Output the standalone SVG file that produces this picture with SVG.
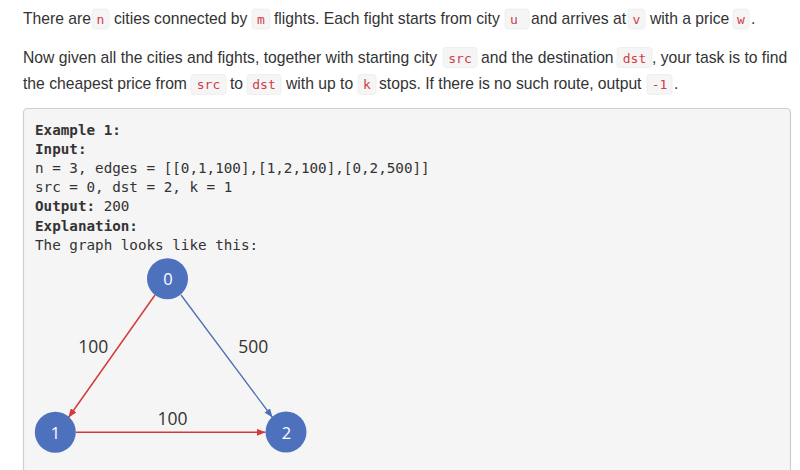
<svg xmlns="http://www.w3.org/2000/svg" width="800" height="470" viewBox="0 0 800 470">
<defs>
<style>
.t{font-family:"Liberation Sans",Arial,sans-serif;font-size:15.7px;fill:#333}
.c{font-family:"DejaVu Sans Mono","Liberation Mono",monospace;font-size:13px;fill:#d03c48;text-anchor:middle}
.cb{fill:#f5f5f5;stroke:#ececec;stroke-width:0.8}
.m{font-family:"DejaVu Sans Mono","Liberation Mono",monospace;font-size:14.25px;fill:#333}
.b{font-weight:bold}
.node{fill:#4e71be}
.nl{font-family:"Open Sans","DejaVu Sans",sans-serif;font-size:16.5px;fill:#fff;text-anchor:middle}
.el{font-family:"Open Sans","DejaVu Sans",sans-serif;font-size:17.5px;fill:#333;text-anchor:middle}
.red{stroke:#d5393b;stroke-width:1.5;fill:none}
.blue{stroke:#4c6fb4;stroke-width:1.3;fill:none}
</style>
<marker id="ar" viewBox="0 0 10 8" refX="10" refY="4" markerWidth="9" markerHeight="7" markerUnits="userSpaceOnUse" orient="auto"><path d="M0,0 L10,4 L0,8 z" fill="#d5393b"/></marker>
<marker id="ab" viewBox="0 0 10 8" refX="10" refY="4" markerWidth="9" markerHeight="7" markerUnits="userSpaceOnUse" orient="auto"><path d="M0,0 L10,4 L0,8 z" fill="#4c6fb4"/></marker>
</defs>
<rect width="800" height="470" fill="#fff"/>
<g id="line1">
<text class="t" x="23" y="24">There are</text>
<rect class="cb" x="92" y="9" width="17" height="20" rx="3"/><text class="c" x="100.5" y="24">n</text>
<text class="t" x="114" y="24">cities connected by</text>
<rect class="cb" x="252" y="9" width="18" height="20" rx="3"/><text class="c" x="261" y="24">m</text>
<text class="t" x="274" y="24">flights. Each fight starts from city</text>
<rect class="cb" x="505" y="9" width="24" height="20" rx="3"/><text class="c" x="514" y="24">u</text>
<text class="t" x="531" y="24">and arrives at</text>
<rect class="cb" x="628" y="9" width="17" height="20" rx="3"/><text class="c" x="636.5" y="24">v</text>
<text class="t" x="650" y="24">with a price</text>
<rect class="cb" x="733" y="9" width="16" height="20" rx="3"/><text class="c" x="741" y="24">w</text>
<text class="t" x="751" y="24">.</text>
</g>
<g id="line2">
<text class="t" x="23" y="62.5">Now given all the cities and fights, together with starting city</text>
<rect class="cb" x="443" y="47.5" width="34" height="20" rx="3"/><text class="c" x="460" y="62.5">src</text>
<text class="t" x="481" y="62.5">and the destination</text>
<rect class="cb" x="617" y="47.5" width="35" height="20" rx="3"/><text class="c" x="634.5" y="62.5">dst</text>
<text class="t" x="652" y="62.5">, your task is to find</text>
</g>
<g id="line3">
<text class="t" x="23" y="89.3">the cheapest price from</text>
<rect class="cb" x="191" y="74.5" width="35" height="20" rx="3"/><text class="c" x="208.5" y="89.3">src</text>
<text class="t" x="230" y="89.3">to</text>
<rect class="cb" x="247" y="74.5" width="34" height="20" rx="3"/><text class="c" x="264" y="89.3">dst</text>
<text class="t" x="286" y="89.3">with up to</text>
<rect class="cb" x="358" y="74.5" width="18" height="20" rx="3"/><text class="c" x="367" y="89.3">k</text>
<text class="t" x="379" y="89.3">stops. If there is no such route, output</text>
<rect class="cb" x="647" y="74.5" width="25" height="20" rx="3"/><text class="c" x="659.5" y="89.3">-1</text>
<text class="t" x="674" y="89.3">.</text>
</g>
<g id="example">
<rect x="23.5" y="108.5" width="767" height="380" rx="4" fill="#f5f5f5" stroke="#cfcfcf" stroke-width="1.2"/>
<text class="m b" x="35" y="134.5">Example 1:</text>
<text class="m b" x="35" y="153.7">Input:</text>
<text class="m" x="35" y="172.9">n = 3, edges = [[0,1,100],[1,2,100],[0,2,500]]</text>
<text class="m" x="35" y="192.1">src = 0, dst = 2, k = 1</text>
<text class="m" x="35" y="211.3"><tspan class="b">Output:</tspan> 200</text>
<text class="m b" x="35" y="230.5">Explanation:</text>
<text class="m" x="35" y="249.7">The graph looks like this:</text>
</g>
<g id="connectors">
<line class="red" x1="155" y1="295" x2="68.5" y2="417.5" marker-end="url(#ar)"/>
<line class="blue" x1="181" y1="295" x2="272.5" y2="417.5" marker-end="url(#ab)"/>
<line class="red" x1="76" y1="432.3" x2="265.5" y2="432.3" marker-end="url(#ar)"/>
<text class="el" x="93.3" y="352.7">100</text>
<text class="el" x="253.3" y="352.7">500</text>
<text class="el" x="172.5" y="425">100</text>
</g>
<g id="node0"><circle class="node" cx="167.5" cy="278.7" r="20.5"/><text class="nl" x="168" y="285">0</text></g>
<g id="node1"><circle class="node" cx="55.3" cy="432.2" r="20.5"/><text class="nl" x="55.5" y="438.5">1</text></g>
<g id="node2"><circle class="node" cx="286" cy="432" r="20.5"/><text class="nl" x="286.5" y="438.5">2</text></g>
</svg>
